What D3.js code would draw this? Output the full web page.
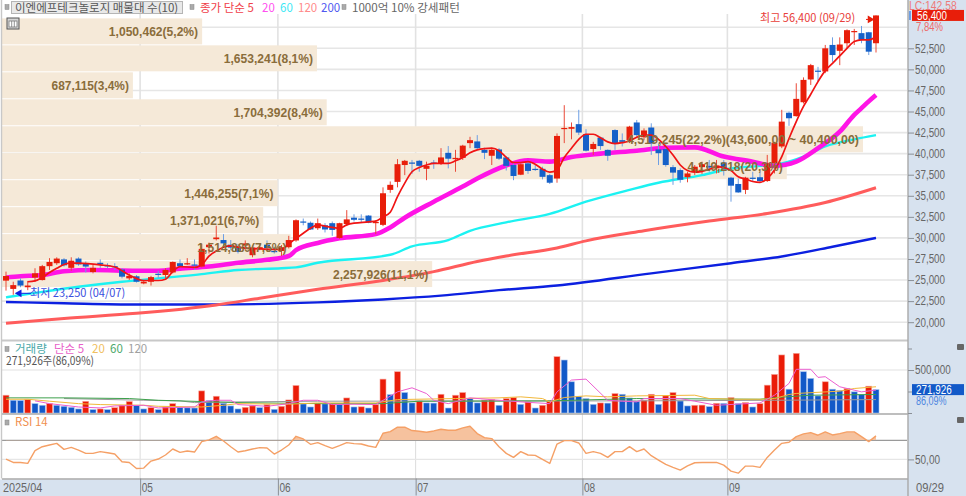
<!DOCTYPE html>
<html>
<head>
<meta charset="utf-8">
<script src="https://cdn.jsdelivr.net/npm/d3@7/dist/d3.min.js"></script>
<style>
  html, body { margin: 0; padding: 0; background: #fff; overflow: hidden; }
  text { font-family: "Liberation Sans", "Noto Sans CJK KR", sans-serif; }
  .kr { font-family: "Noto Sans CJK KR", sans-serif; font-size: 11.5px; }
  .axis text, .tag { font-family: "Liberation Sans", sans-serif; font-size: 12px; }
  .axis text { fill: #666; }
  .axis .domain { display: none; }
  .axis line { stroke: #8a8f96; }
  .profile { font-family: "Liberation Sans", sans-serif; font-size: 12px; font-weight: bold; fill: #8a6d3b; }
</style>
</head>
<body>
<div id="chart"></div>
<script>
// daily prices
const candleOpen = [24930,23950,24950,24150,25300,25000,26650,27000,27450,26450,
  27550,26950,25950,27050,26750,26650,26250,25200,25450,24600,
  24800,25750,25600,25900,27000,26850,26850,26600,28900,29850,
  29750,29200,28900,29100,27950,28700,29200,28450,28450,28900,
  29700,31950,31800,31150,31500,31750,30000,31650,32400,32300,
  32650,31750,31550,35700,36650,38650,38950,39150,38200,38950,
  38800,40100,39350,39500,41250,41450,40450,39750,40500,39550,
  38650,37500,38850,38200,38200,37450,37050,42950,42950,43500,
  42300,40550,41900,40450,42800,41600,41600,43700,41950,43100,
  40500,40550,38400,38050,37200,37800,38400,38550,38250,38950,
  37150,36400,35700,37150,37200,36750,38850,40850,44850,44450,
  46100,48800,49850,49750,52900,52200,53100,54450,54300,54400,53100]
const candleHigh = [26000,24800,25200,24900,26400,26800,27600,27700,27600,27700,
  27700,27200,26800,27450,27000,27000,26400,25800,25600,25000,
  25500,26100,26400,27200,27450,27600,27450,29300,29450,31450,
  30450,29750,29300,29700,28950,29300,29700,28950,29150,30250,
  32200,32300,31950,32300,31750,31950,31800,33300,32800,32800,
  32700,32100,36000,36700,39350,39250,39250,39250,39050,39250,
  40650,40900,40450,41050,42000,42200,40700,40700,40650,39700,
  38850,38850,39150,38650,38450,37600,42400,45750,43700,45200,
  42900,41400,42000,40500,42900,42400,43300,44000,43000,43600,
  41200,41200,38650,38250,37850,38650,39050,39250,39250,39250,
  37250,37050,37250,37850,37850,39850,41400,45200,45000,48350,
  49050,50650,50300,52900,53800,53800,54750,54800,55150,54450,56400]
const candleLow = [23750,23250,24150,23800,24800,24950,26200,26800,26600,26100,
  26700,25900,25800,26450,26400,26200,25200,25000,24700,24500,
  24350,25200,25200,25800,26500,26800,26200,26500,28150,29700,
  28950,28550,28150,28550,27700,28550,28550,28150,27850,28750,
  29550,31500,30950,30950,30650,30250,29900,31400,31950,31850,
  31750,30450,31400,35350,36000,37450,37600,37850,36850,38200,
  38650,38250,37850,39250,40650,40450,39350,38650,39250,38000,
  36850,37450,37600,37950,36950,36400,36550,41250,41700,42200,
  40250,39850,40450,39150,40450,40850,41250,42000,41600,39850,
  38650,38450,36300,36550,36600,37450,37600,37850,37650,37400,
  34300,35350,35200,36700,36550,36650,37650,40650,43300,44400,
  45950,48150,48600,49550,50900,50500,52500,52900,53100,51700,52000]
const candleClose = [25480,24400,24350,24350,25800,26650,27150,27550,26750,27300,
  26850,26600,26450,26850,26650,26550,25400,25500,24800,24800,
  25350,25650,26200,27150,26650,27000,26800,28700,29200,30050,
  29350,28850,28350,29350,28850,28900,28800,28350,28900,29750,
  32100,31850,31000,31750,31000,30950,31750,32200,32150,32150,
  31800,31900,35300,36300,38750,39150,38800,38550,38550,38800,
  39550,39400,39500,40950,41600,40650,40100,40450,39400,38550,
  37350,38750,37950,38100,37250,36550,42100,43050,43150,42500,
  40350,41150,40900,39750,41200,41400,43200,42200,42750,41200,
  40050,38650,37750,36900,37650,38450,38750,38350,38600,38250,
  36200,35400,37150,37000,36750,38850,41300,43800,44200,46500,
  48750,50500,49750,52500,51700,52950,54650,54550,53500,52100,56400]

// thousand shares
const volume = [207,148,145,156,109,90,109,90,78,66,
  47,136,39,47,39,62,90,133,90,47,
  62,39,70,109,62,60,58,257,144,195,
  113,82,47,66,82,62,97,43,78,152,
  320,105,70,112,106,108,101,175,70,72,
  58,97,394,214,480,238,117,140,117,115,
  218,58,207,238,168,117,150,156,90,168,
  179,101,129,58,90,136,655,616,363,195,
  168,101,117,115,226,218,175,136,148,218,
  101,199,238,140,82,90,92,74,113,112,
  179,109,121,70,109,324,449,675,277,694,
  480,402,199,363,277,261,285,246,214,312,271.926]

const rsi = [50.4,46.8,46.8,45.8,59.1,63.3,65.1,66.8,60.5,62.6,
  59.8,56.3,56.3,58.1,57.0,55.6,47.5,46.8,40.5,40.9,
  48.2,50.4,54.6,60.9,57.4,58.8,57.7,68.6,70.4,74.2,
  69.3,63.3,57.7,59.1,60.9,62.3,61.9,55.6,59.8,65.1,
  74.2,71.4,65.8,67.6,64.4,61.6,64.4,67.6,66.5,66.1,
  64.0,62.6,77.4,79.1,83.7,83.7,80.2,79.5,78.4,79.8,
  81.6,80.5,80.5,83.0,84.7,77.0,72.8,71.8,63.3,56.3,
  52.1,58.1,54.6,54.2,50.0,45.8,66.1,69.7,69.7,67.2,
  56.3,58.1,56.3,52.1,58.1,58.1,63.3,58.1,60.9,53.9,
  49.3,44.7,41.6,38.8,43.3,46.5,46.8,46.8,46.8,44.0,
  37.7,35.6,43.0,43.0,41.6,52.1,59.8,66.8,67.9,73.9,
  76.7,78.1,75.3,78.8,75.6,77.0,78.8,78.8,73.9,68.6,74.6]

// moving averages: [day index, value] read at the bends
const ma5 = [[3,24800],[4,24900],[5,25300],[6,25900],[7,26400],[8,26850],[9,27000],[10,27000],[13,26800],[15,26550],
  [17,25600],[19,24950],[21,24950],[22,25100],[23,26000],[24,26600],[26,26500],[27,26800],[28,27850],[29,28450],
  [30,28900],[31,29050],[32,28900],[33,28800],[35,28700],[37,28650],[38,28650],[39,29300],[40,29950],[41,30550],
  [42,31150],[43,31550],[44,31400],[45,31250],[46,31150],[47,31550],[48,31750],[50,31900],[51,32000],[52,32500],
  [53,33050],[54,34900],[55,36500],[56,37850],[57,38350],[58,38650],[59,38850],[60,38850],[61,38850],[62,39150],
  [63,39550],[64,40100],[65,40450],[66,40600],[67,40650],[68,40350],[69,39550],[70,38950],[71,38950],[72,39050],
  [73,38750],[74,38150],[75,37800],[76,38050],[77,39550],[78,40650],[79,41700],[80,42300],[81,42300],[82,41900],
  [83,41400],[84,41200],[85,41300],[86,41500],[87,41950],[88,42200],[89,42200],[90,41700],[91,40850],[92,39850],
  [93,38650],[94,38000],[95,37800],[96,37900],[97,38150],[98,38450],[99,38350],[100,38000],[101,37250],[102,37000],
  [103,36700],[104,36600],[105,37050],[106,38050],[107,39650],[108,41800],[109,43800],[110,45600],[111,47050],[112,48550],
  [113,49850],[114,50700],[115,51600],[116,52500],[117,53300],[118,53500],[119,53500],[120,53900]]
const ma20 = [[0,25300],[2,25450],[5,25600],[8,26050],[12,26200],[18,26100],[21,26100],[24,26350],[28,26600],[32,27050],
  [36,27400],[39,27850],[40,28550],[43,29400],[46,29950],[51,30450],[53,31250],[55,32400],[59,34300],[63,36100],
  [65,37050],[69,38600],[72,39200],[75,39050],[78,39600],[82,40000],[87,40350],[91,40700],[95,40750],[99,39650],
  [103,39050],[106,38550],[109,39050],[112,40650],[115,42600],[117,44600],[118,45400],[119,46200],[120,46950]]
const ma60 = [[0,22950],[5,23600],[10,24200],[16,24800],[21,25200],[27,25700],[32,26200],[38,26400],[40,26500],[43,27050],
  [53,28000],[56,29000],[61,29750],[64,30850],[69,31850],[75,32850],[80,34300],[86,35700],[90,36550],[96,37450],
  [100,38250],[104,38550],[107,38850],[110,39650],[113,40850],[117,41700],[120,42200]]
const ma120 = [[0,19870],[8,20450],[18,21050],[29,22050],[35,22850],[43,23900],[52,24950],[59,26000],[65,27200],[69,27850],
  [76,28800],[80,29650],[88,30850],[97,32000],[105,32900],[113,34200],[120,35950]]
const ma200 = [[0,22400],[8,22250],[18,22100],[29,22100],[43,22350],[52,22700],[60,23150],[68,23800],[76,24350],[89,25800],
  [100,27000],[107,27800],[114,28950],[120,30000]]

const volMa5 = [[4,141],[6,109],[10,70],[13,59],[15,82],[19,90],[21,59],[26,70],[27,129],[29,148],[31,148],[32,98],[36,78],[39,109],[41,148],[43,148],
  [45,98],[48,102],[51,98],[54,246],[56,293],[58,226],[59,148],[61,109],[64,176],[68,148],[71,129],[75,109],[76,246],[78,383],[80,394],[83,148],[85,137],[87,129],
  [88,168],[93,168],[95,137],[98,90],[104,117],[106,207],[108,344],[109,508],[111,508],[112,414],[113,422],[115,305],[118,246],[120,266]]
const volMa20 = [[0,160],[3,160],[6,137],[10,109],[13,98],[19,90],[21,78],[27,70],[30,90],[32,109],[39,102],[43,117],[48,117],[51,117],[54,156],
  [62,168],[68,176],[71,188],[74,168],[75,129],[77,180],[80,199],[83,188],[87,199],[95,207],[97,168],[101,160],[104,160],[106,168],[108,215],[109,227],[115,254],[117,285],[120,305]]
const volMa60 = [[0,176],[8,176],[17,168],[21,148],[32,121],[43,109],[48,109],[52,109],[57,137],[75,141],[87,168],[104,160],[107,184],[111,207],[120,215]]
const volMa120 = [[8,168],[19,148],[24,141],[26,121],[32,129],[43,137],[87,141],[106,148],[120,156]]

// 매물대 (volume at price): bottom of each price bin and traded volume
const binBottom = [52850,49650,46450,43250,40050,36850,33650,30450,27250,24050]
const binVolume = [1050462,1653241,687115,1704392,4519245,4119218,1446255,1371021,1514889,2257926]
const binLabel = ["1,050,462(5,2%)","1,653,241(8,1%)","687,115(3,4%)","1,704,392(8,4%)",
  "4,519,245(22,2%)(43,600,00 ~ 40,400,00)","4,119,218(20,3%)","1,446,255(7,1%)","1,371,021(6,7%)","1,514,889(7,5%)","2,257,926(11,1%)"]
const binHeight = 3200

const priceTicks = [20000,22500,25000,27500,30000,32500,35000,37500,40000,42500,45000,47500,50000,52500]
const priceGrid = priceTicks.concat([55000])
const monthStart = [19,38,57,80,100]
const monthLabel = ["05","06","07","08","09"]

const W = 966, H = 496
const plotRight = 907, rightAxisX = 908
const mainBottom = 340, volBottom = 413, rsiBottom = 478.5

const svg = d3.select("#chart").append("svg").attr("width", W).attr("height", H)
  .style("display", "block")

const x = d3.scaleLinear().domain([0, 120]).range([6, 876])
const y = d3.scaleLinear().domain([20000, 52500]).range([322.2, 48.3])
const yVol = d3.scaleLinear().domain([0, 500]).range([volBottom, 370])
const yRsi = d3.scaleLinear().domain([30, 70]).range([rsiBottom, 440.3])
const xProfile = d3.scaleLinear().domain([0, 4519245]).range([2, 863])

const days = d3.range(candleClose.length)

// the reference font is a fixed width bitmap one, so squeeze to a per character width
const squeeze = (sel, perChar) => sel
  .attr("textLength", function () { return this.textContent.length * perChar })
  .attr("lengthAdjust", "spacingAndGlyphs")

// panels
svg.append("rect").attr("x", rightAxisX).attr("y", 0).attr("width", W - rightAxisX).attr("height", H).attr("fill", "#d7e2ef")
svg.append("rect").attr("x", 0).attr("y", rsiBottom + 1).attr("width", W).attr("height", H - rsiBottom).attr("fill", "#d7e2ef")

// grids
const gridG = svg.append("g")
gridG.selectAll("line.h").data(priceGrid).enter().append("line")
  .attr("x1", 2).attr("x2", plotRight).attr("y1", d => y(d)).attr("y2", d => y(d))
  .attr("stroke", "#e6e6e6").attr("stroke-width", 1.6)
gridG.selectAll("line.v").data(monthStart).enter().append("line")
  .attr("x1", d => x(d - 0.5)).attr("x2", d => x(d - 0.5))
  .attr("y1", 14).attr("y2", mainBottom)
  .attr("stroke", "#e2e2e2").attr("stroke-width", 1.6)
gridG.selectAll("line.vv").data(monthStart).enter().append("line")
  .attr("x1", d => x(d - 0.5)).attr("x2", d => x(d - 0.5))
  .attr("y1", mainBottom).attr("y2", rsiBottom)
  .attr("stroke", "#dcdcdc").attr("stroke-width", 1)
gridG.append("line").attr("x1", 2).attr("x2", plotRight).attr("y1", yVol(500)).attr("y2", yVol(500)).attr("stroke", "#e2e2e2").attr("stroke-width", 1.2)
gridG.append("line").attr("x1", 2).attr("x2", plotRight).attr("y1", yRsi(50)).attr("y2", yRsi(50)).attr("stroke", "#e6e6e6").attr("stroke-width", 1.4)
gridG.append("line").attr("x1", 2).attr("x2", plotRight).attr("y1", yRsi(70)).attr("y2", yRsi(70)).attr("stroke", "#9a9a9a").attr("stroke-width", 1.2)

// volume at price bars
svg.append("g").selectAll("rect").data(binVolume).enter().append("rect")
  .attr("x", 2)
  .attr("y", (d, i) => y(binBottom[i] + binHeight))
  .attr("width", d => xProfile(d) - 2)
  .attr("height", (d, i) => y(binBottom[i]) - y(binBottom[i] + binHeight) - 1)
  .attr("fill", "#f5e9d8")

// moving averages
const maLine = d3.line().x(d => x(d[0])).y(d => y(d[1])).curve(d3.curveMonotoneX)
const drawLine = (data, line, color, width) =>
  svg.append("path").datum(data).attr("d", line).attr("fill", "none")
    .attr("stroke", color).attr("stroke-width", width).attr("stroke-linejoin", "round")

drawLine(ma200, maLine, "#0c20e0", 2.4)
drawLine(ma120, maLine, "#ff5c5c", 3)
drawLine(ma60, maLine, "#1cf2f2", 2.4)
drawLine(ma20, maLine, "#ff14e6", 4.6)

// candles
const isUp = i => candleClose[i] >= candleOpen[i]
const candleG = svg.append("g").selectAll("g").data(days).enter().append("g")
candleG.append("line")
  .attr("x1", i => x(i)).attr("x2", i => x(i))
  .attr("y1", i => y(candleHigh[i])).attr("y2", i => y(candleLow[i]))
  .attr("stroke", i => isUp(i) ? "#ea4a38" : "#6e9fe4").attr("stroke-width", 1)
candleG.append("rect")
  .attr("x", i => x(i) - 3)
  .attr("y", i => y(Math.max(candleOpen[i], candleClose[i])))
  .attr("width", 6)
  .attr("height", i => Math.max(1.2, Math.abs(y(candleOpen[i]) - y(candleClose[i]))))
  .attr("fill", i => isUp(i) ? "#e81e0a" : "#1560c8")

drawLine(ma5, maLine, "#f01414", 1.7)

// bin labels on top of everything
svg.append("g").selectAll("text").data(binLabel).enter().append("text")
  .attr("class", "profile")
  .attr("x", (d, i) => xProfile(binVolume[i]) - 4)
  .attr("y", (d, i) => y(binBottom[i] + binHeight / 2) + 4)
  .attr("text-anchor", "end")
  .text(d => d)
  .call(squeeze, 5.95)

// volume panel
svg.append("g").selectAll("rect").data(volume).enter().append("rect")
  .attr("x", (d, i) => x(i) - 3)
  .attr("y", d => yVol(d))
  .attr("width", 6)
  .attr("height", d => yVol(0) - yVol(d))
  .attr("fill", (d, i) => (i === 0 || d >= volume[i - 1]) ? "#ea1c08" : "#1259c8")
  .attr("stroke", (d, i) => (i === 0 || d >= volume[i - 1]) ? "#f7a79c" : "#a6c2ee")
  .attr("stroke-width", 0.6)

const volLine = d3.line().x(d => x(d[0])).y(d => yVol(d[1]))
drawLine(volMa120, volLine, "#9a9a9a", 1)
drawLine(volMa60, volLine, "#3da04c", 1)
drawLine(volMa20, volLine, "#f2b83a", 1)
drawLine(volMa5, volLine, "#ec5fd0", 1)

// rsi panel
svg.append("clipPath").attr("id", "over70").append("rect")
  .attr("x", 0).attr("y", yRsi(95)).attr("width", W).attr("height", yRsi(70) - yRsi(95))
svg.append("path").datum(rsi)
  .attr("d", d3.area().x((d, i) => x(i)).y0(yRsi(70)).y1(d => yRsi(d)))
  .attr("clip-path", "url(#over70)")
  .attr("fill", "#f6c29e")
drawLine(rsi, d3.line().x((d, i) => x(i)).y(d => yRsi(d)), "#f5a066", 1.4)

// panel borders
const border = (y1, color, w) => svg.append("line").attr("x1", 2).attr("x2", rightAxisX).attr("y1", y1).attr("y2", y1).attr("stroke", color).attr("stroke-width", w)
border(mainBottom + 0.5, "#c8c8c8", 2)
border(volBottom + 1, "#a9a9a9", 1.5)
border(rsiBottom + 0.5, "#a9a9a9", 1.6)
svg.append("line").attr("x1", 1.5).attr("x2", 1.5).attr("y1", 0).attr("y2", rsiBottom).attr("stroke", "#c8c8c8").attr("stroke-width", 1.4)
svg.append("line").attr("x1", rightAxisX).attr("x2", rightAxisX).attr("y1", 0).attr("y2", H).attr("stroke", "#a9a9a9").attr("stroke-width", 1.4)

// axes
const axisAt = gen => svg.append("g").attr("class", "axis").attr("transform", `translate(${rightAxisX},0)`).call(gen)
axisAt(d3.axisRight(y).tickValues(priceTicks).tickSize(6).tickPadding(1).tickFormat(d3.format(",")))
  .selectAll("text").call(squeeze, 5)
axisAt(d3.axisRight(yVol).tickValues([500]).tickSize(6).tickPadding(1).tickFormat(() => "500,000"))
  .selectAll("text").call(squeeze, 5.1)
axisAt(d3.axisRight(yVol).tickValues([0, 250, 750]).tickSize(4).tickFormat(""))
axisAt(d3.axisRight(yRsi).tickValues([50]).tickSize(6).tickPadding(1).tickFormat(d => d3.format(".2f")(d).replace(".", ",")))
  .selectAll("text").call(squeeze, 5)

const timeAxis = d3.axisBottom(x)
  .tickValues(monthStart.map(d => d - 0.5))
  .tickSize(0).tickPadding(0)
  .tickFormat((d, i) => monthLabel[i])
const timeG = svg.append("g").attr("class", "axis").attr("transform", `translate(0,${rsiBottom})`).call(timeAxis)
timeG.attr("text-anchor", "start")
timeG.selectAll(".tick text").attr("text-anchor", "start").attr("dx", 1).attr("y", 5).attr("dy", "0.71em").call(squeeze, 5.6)
timeG.append("text").attr("x", 3).attr("y", 5).attr("dy", "0.71em").attr("text-anchor", "start").text("2025/04").call(squeeze, 5.6)
timeG.append("text").attr("x", 916).attr("y", 5).attr("dy", "0.71em").attr("text-anchor", "start").text("09/29").call(squeeze, 5.6)
timeG.selectAll(".tick").append("line").attr("y1", 0).attr("y2", 17).attr("stroke", "#b0b4ba")

// price tags on the right
const addText = (txt, px, py, color, cls) =>
  svg.append("text").attr("x", px).attr("y", py).attr("fill", color).attr("class", cls || null).text(txt)

svg.append("rect").attr("x", 909).attr("y", 11).attr("width", 2).attr("height", 9).attr("fill", "#6e9fe4")
addText("LC:142,58", 909, 10, "#ee7a7a", "tag").call(squeeze, 5.3)
svg.append("rect").attr("x", 912).attr("y", y(56400) - 5.5).attr("width", 52).attr("height", 11).attr("fill", "#e81e0a")
addText("56,400", 917, y(56400) + 4.5, "#fff", "tag").call(squeeze, 5)
addText("7,84%", 916, 31, "#ee6a6a", "tag").call(squeeze, 5.4)
svg.append("rect").attr("x", 912).attr("y", yVol(271.926) - 5.5).attr("width", 52).attr("height", 11).attr("fill", "#1259c8")
addText("271,926", 916, yVol(271.926) + 4.5, "#fff", "tag").call(squeeze, 5.1)
addText("86,09%", 916, 404.5, "#4e86e0", "tag").call(squeeze, 5.1)
for (const py of [347, 420]) {
  svg.append("rect").attr("x", 957).attr("y", py - 3).attr("width", 7).attr("height", 6).attr("fill", "#666").attr("rx", 1)
}

// high / low notes
addText("최고 56,400 (09/29)", 760, y(56400) + 7, "#e8403a", "kr").call(squeeze, 5.6)
svg.append("line").attr("x1", 866).attr("x2", x(120) - 6).attr("y1", y(56400) + 4).attr("y2", y(56400) + 4).attr("stroke", "#e81e0a").attr("stroke-width", 1)
svg.append("path").attr("d", d3.symbol(d3.symbolTriangle, 26)).attr("fill", "#e81e0a")
  .attr("transform", `translate(${x(120) - 6},${y(56400) + 4}) rotate(90)`)

addText("최저 23,250 (04/07)", 30, y(23250) + 2, "#3a4ee0", "kr").call(squeeze, 5.6)
svg.append("line").attr("x1", x(1) + 5).attr("x2", 31).attr("y1", y(23250) - 1.5).attr("y2", y(23250) - 1.5).attr("stroke", "#1020e0").attr("stroke-width", 1)
svg.append("path").attr("d", d3.symbol(d3.symbolTriangle, 26)).attr("fill", "#1020e0")
  .attr("transform", `translate(${x(1) + 6},${y(23250) - 1.5}) rotate(-90)`)

// legends
const square = (px, py) => svg.append("rect").attr("x", px).attr("y", py).attr("width", 4).attr("height", 5)
  .attr("fill", "#aaa").attr("stroke", "#888").attr("stroke-width", 0.5)

svg.append("rect").attr("x", 11.5).attr("y", 1.5).attr("width", 171).attr("height", 12).attr("fill", "#e9e9e9").attr("stroke", "#b5b5b5")
square(5, 4.5); square(190, 4.5); square(342, 4.5)
addText("이엔에프테크놀로지 매물대 수(10)", 15, 12, "#555", "kr")
addText("종가 단순 5", 200, 12, "#f0404a", "kr")
addText("20", 262, 12, "#ff50f0", "kr")
addText("60", 280, 12, "#40e8f5", "kr")
addText("120", 298, 12, "#ff8a8a", "kr")
addText("200", 321, 12, "#5058f0", "kr")
addText("1000억 10% 강세패턴", 352, 12, "#666", "kr").call(squeeze, 7.7)

svg.append("rect").attr("x", 7).attr("y", 18).attr("width", 12).attr("height", 11).attr("fill", "#d5d5d5").attr("stroke", "#555")
svg.append("rect").attr("x", 9).attr("y", 21).attr("width", 8).attr("height", 6).attr("fill", "#fff").attr("stroke", "#777").attr("stroke-width", 0.8)
svg.selectAll("line.ico").data([0, 1]).enter().append("line")
  .attr("x1", d => 11.7 + d * 2.6).attr("x2", d => 11.7 + d * 2.6).attr("y1", 21).attr("y2", 27).attr("stroke", "#777").attr("stroke-width", 0.8)

square(5, 346.5)
addText("거래량", 15, 352.5, "#4aa8a8", "kr")
addText("단순 5", 54, 352.5, "#e860c8", "kr")
addText("20", 92, 352.5, "#f0c060", "kr")
addText("60", 110, 352.5, "#4ea86a", "kr")
addText("120", 128, 352.5, "#a0a0a0", "kr")
addText("271,926주(86,09%)", 6, 365, "#555", "kr").call(squeeze, 5.5)

square(5, 420)
addText("RSI 14", 15, 426, "#f09050", "kr")
</script>
</body>
</html>
